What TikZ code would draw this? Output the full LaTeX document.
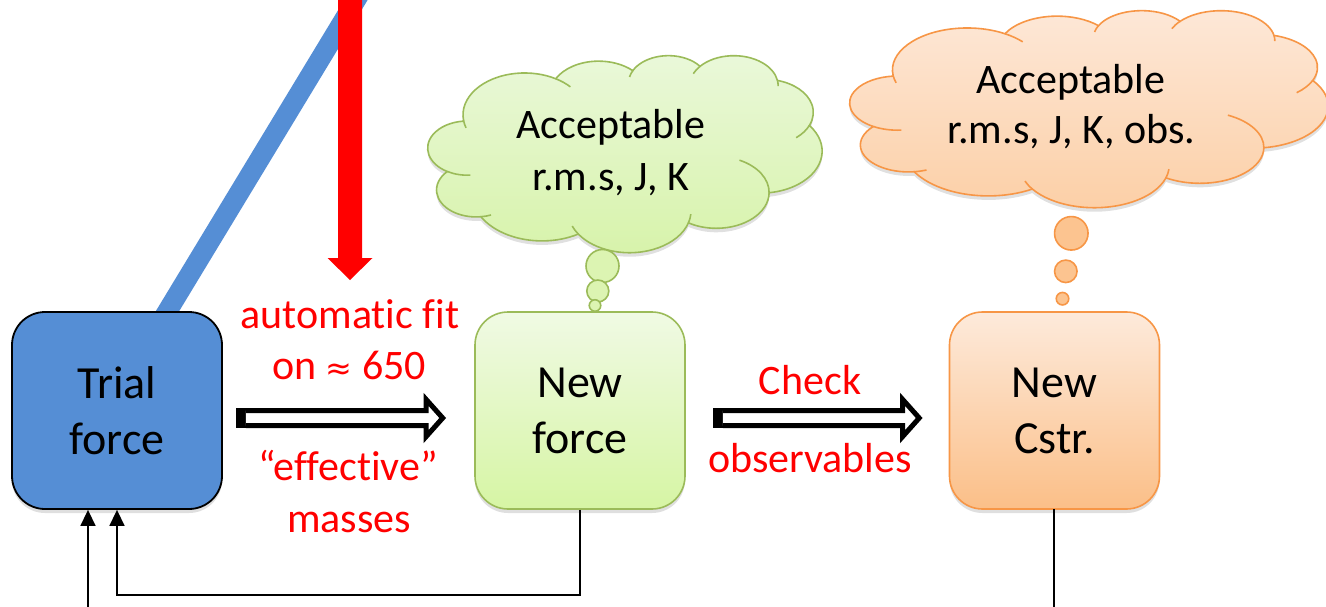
\documentclass[tikz,border=0pt]{standalone}
\usepackage{fontspec}
\setmainfont[Ligatures={NoCommon,NoContextual}]{Carlito}
\newfontfamily\symfont{DejaVu Sans}
\usetikzlibrary{arrows.meta,shadows,backgrounds,calc}
\definecolor{boxblue}{HTML}{558ED5}
\definecolor{grborder}{HTML}{9BBB59}
\definecolor{grtop}{HTML}{F0FAE4}
\definecolor{grbot}{HTML}{D6F5A4}
\definecolor{grctop}{HTML}{EAF8DA}
\definecolor{grcbot}{HTML}{D7F3AA}
\definecolor{orborder}{HTML}{F79646}
\definecolor{ortop}{HTML}{FDEADB}
\definecolor{orbot}{HTML}{FBBF88}
\definecolor{orctop}{HTML}{FDE8D8}
\definecolor{orcbot}{HTML}{FCCFA6}
\definecolor{orbub}{HTML}{FCC490}
\definecolor{grbub}{HTML}{DCF4B2}
\newcommand\cloudpath{(39,143.7)
 arc[start angle=172.26,end angle=300.37,x radius=67.53,y radius=91.90]
 arc[start angle=-152.02,end angle=-45.45,x radius=53.33,y radius=72.67]
 arc[start angle=-153.49,end angle=-37.35,x radius=43.65,y radius=59.45]
 arc[start angle=-139.71,end angle=-10.21,x radius=48.57,y radius=65.95]
 arc[start angle=-74.77,end angle=23.21,x radius=53.33,y radius=72.73]
 arc[start angle=-37.52,end angle=81.86,x radius=67.75,y radius=92.20]
 arc[start angle=0.46,end angle=121.98,x radius=57.85,y radius=78.67]
 arc[start angle=16.84,end angle=146.23,x radius=67.52,y radius=92.15]
 arc[start angle=58.98,end angle=150.18,x radius=77.20,y radius=105.43]
 arc[start angle=83.31,end angle=223.11,x radius=43.60,y radius=59.18]
 arc[start angle=120.36,end angle=264.11,x radius=43.45,y radius=59.45]
 -- cycle}
\newcommand\cloudinner{
 (43.085,204.146) ++(85.55:43.45 and 59.45) arc[start angle=85.55,end angle=120.36,x radius=43.45,y radius=59.45]
 (52.944,295.891) ++(68.23:43.60 and 59.18) arc[start angle=68.23,end angle=83.31,x radius=43.60,y radius=59.18]
 (220.917,341.395) ++(146.23:67.52 and 92.15) arc[start angle=146.23,end angle=158.47,x radius=67.52,y radius=92.15]
 (220.917,341.395) ++(4.74:67.52 and 92.15) arc[start angle=4.74,end angle=16.84,x radius=67.52,y radius=92.15]
 (316.18,301.36) ++(-64.03:57.85 and 78.67) arc[start angle=-64.03,end angle=0.46,x radius=57.85,y radius=78.67]
 (369.161,125.910) ++(23.21:53.33 and 72.73) arc[start angle=23.21,end angle=49.65,x radius=53.33,y radius=72.73]
 (335.369,67.424) ++(-10.21:48.57 and 65.95) arc[start angle=-10.21,end angle=0.82,x radius=48.57,y radius=65.95]
 (335.369,67.424) ++(-156.29:48.57 and 65.95) arc[start angle=-156.29,end angle=-139.71,x radius=48.57,y radius=65.95]
 (263.629,60.875) ++(-167.73:43.65 and 59.45) arc[start angle=-167.73,end angle=-153.49,x radius=43.65,y radius=59.45]
 (105.914,131.316) ++(-59.63:67.53 and 91.90) arc[start angle=-59.63,end angle=-42,x radius=67.53,y radius=91.90]
 (105.914,131.316) ++(162:67.53 and 91.90) arc[start angle=162,end angle=172.26,x radius=67.53,y radius=91.90]
}
\newcommand\drawcloud[6]{%
  \begin{scope}[shift={(#1,#2+4)}, x=1pt, y=1pt, xscale=#3, yscale=-0.456]
    \fill[black,opacity=0.12] \cloudpath;
  \end{scope}
  \begin{scope}[shift={(#1,#2)}, x=1pt, y=1pt, xscale=#3, yscale=-0.456]
    \draw[draw=#4, line width=1.6pt, top color=#5, bottom color=#6] \cloudpath;
    \draw[#4, line width=1.6pt] \cloudinner;
  \end{scope}}
\newcommand\hollowarrow[2]{%
  \fill[black] let \p1=(#1) in (\x1,\y1+10pt) rectangle (\x1+10pt,\y1-10pt);
  \draw[line width=5pt, fill=white, miter limit=10] let \p1=(#1), \p2=(#2) in
    (\x1+10pt,\y1+7.5pt) -- (\x2-20pt,\y1+7.5pt) -- (\x2-20pt,\y1+18.5pt) -- (\x2-3.5pt,\y1)
    -- (\x2-20pt,\y1-18.5pt) -- (\x2-20pt,\y1-7.5pt) -- (\x1+10pt,\y1-7.5pt);
}
\tikzset{
  box/.style={rounded corners=33pt, minimum width=210pt, minimum height=197pt,
    align=center, inner sep=0pt, font=\fontsize{46}{56}\selectfont,
    drop shadow={opacity=0.25, shadow xshift=0pt, shadow yshift=-4pt}},
  redlbl/.style={anchor=base, inner sep=0pt, text=red, font=\fontsize{42}{50}\selectfont},
  cloudlbl/.style={anchor=base, inner sep=0pt, text=black, font=\fontsize{42}{50}\selectfont},
  bubble/.style={circle, inner sep=0pt, line width=1.6pt},
  conn/.style={line width=1.5pt, -{Triangle[length=16pt,width=15pt]}},
  plainline/.style={line width=1.5pt}
}
\begin{document}
\begin{tikzpicture}[x=1pt, y=-1pt]
\useasboundingbox (0,0) rectangle (1326,606);

% boxes
\node[box, fill=boxblue, draw=black, line width=1.8pt] (trial) at (117,410.5) {Trial\\force};
\node[box, draw=grborder, line width=1.6pt, top color=grtop, bottom color=grbot] (newforce) at (580,410.5) {New\\force};
\node[box, draw=orborder, line width=1.6pt, top color=ortop, bottom color=orbot] (newcstr) at (1054.5,410.5) {New\\Cstr.};

% background: white and the blue line behind the box
\coordinate (bluelow) at (150,340);
\coordinate (bluetop) at (362,-10);
\begin{pgfonlayer}{background}
  \fill[white] (0,0) rectangle (1326,606);
  \draw[boxblue, line width=20pt] (bluelow) -- (bluetop);
\end{pgfonlayer}

% red arrow
\coordinate (redtop) at (350,-10);
\coordinate (redtip) at (350,280);
\fill[red] let \p1=(redtop), \p2=(redtip) in
  (\x1-12pt,\y1) -- (\x2-12pt,\y2+22pt) -- (\x2-22.5pt,\y2+22pt) -- (\x2,\y2)
  -- (\x2+22.5pt,\y2+22pt) -- (\x2+12pt,\y2+22pt) -- (\x1+12pt,\y1) -- cycle;

% clouds
\drawcloud{428}{55}{0.912}{grborder}{grctop}{grcbot}
\drawcloud{850}{10}{1.1065}{orborder}{orctop}{orcbot}

% bubbles
\node[bubble, draw=grborder, fill=grbub, minimum size=33pt] (gb1) at (602.5,266) {};
\node[bubble, draw=grborder, fill=grbub, minimum size=22pt] (gb2) at (597.8,291) {};
\node[bubble, draw=grborder, fill=grbub, minimum size=11.5pt] (gb3) at (595,305.5) {};
\node[bubble, draw=orborder, fill=orbub, minimum size=33.5pt] (ob1) at (1071.3,233.3) {};
\node[bubble, draw=orborder, fill=orbub, minimum size=22.5pt] (ob2) at (1065.8,271.3) {};
\node[bubble, draw=orborder, fill=orbub, minimum size=12.5pt] (ob3) at (1062.5,298.7) {};

% cloud texts
\node[cloudlbl] (g1) at (611,138) {Acceptable};
\node[cloudlbl] (g2) at (611,190) {r.m.s, J, K};
\node[cloudlbl] (o1) at (1071,93) {Acceptable};
\node[cloudlbl] (o2) at (1071.5,143) {r.m.s, J, K, obs.};

% red labels
\node[redlbl] (fit1) at (350,328) {automatic fit};
\node[redlbl] (fit2) at (349,379) {on {\symfont\fontsize{32}{32}\selectfont ≈} 650};
\node[redlbl] (eff1) at (348,480) {“effective”};
\node[redlbl] (eff2) at (349,532) {masses};
\node[redlbl] (chk1) at (810,394) {Check};
\node[redlbl] (chk2) at (810,472) {observables};

% hollow arrows
\coordinate (a1s) at ($(trial.east)+(13,7.5)$);
\coordinate (a1e) at ($(newforce.west)+(-28,7.5)$);
\coordinate (a2s) at ($(newforce.east)+(27,7.5)$);
\coordinate (a2e) at ($(newcstr.west)+(-26,7.5)$);
\hollowarrow{a1s}{a1e}
\hollowarrow{a2s}{a2e}

% feedback connectors
\draw[conn] (newforce.south) -- ++(0,85) -| (trial.south);
\coordinate (in1) at (88,615);
\draw[conn] (in1) -- (in1 |- trial.south);
\coordinate (out1) at (1054,615);
\draw[plainline] (newcstr.south) -- (out1 |- newcstr.south) -- (out1);
\end{tikzpicture}
\end{document}
